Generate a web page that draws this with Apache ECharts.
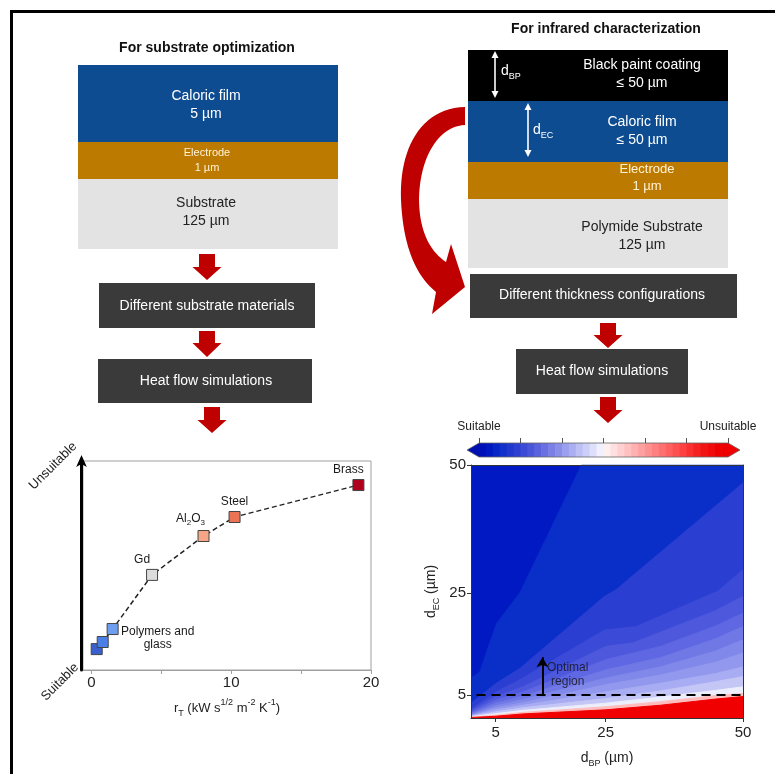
<!DOCTYPE html>
<html>
<head>
<meta charset="utf-8">
<script src="https://cdn.jsdelivr.net/npm/echarts@6/dist/echarts.min.js"></script>
<style>
  html, body { margin: 0; padding: 0; background: #fff; }
  #chart { width: 775px; height: 774px; }
</style>
</head>
<body>
<div id="chart"></div>
<script>
// ---- Substrate comparison: r_T against relative suitability ----
const materialNames = ['Polymer', 'Polymer', 'Polymers and\nglass', 'Gd', 'Al2O3', 'Steel', 'Brass'];
const rT = [0.38, 0.81, 1.52, 4.34, 8.02, 10.24, 19.1];
const suitabilityScore = [0.100, 0.134, 0.196, 0.455, 0.641, 0.732, 0.885];
const rTTickValues = [0, 5, 10, 15, 20];
const rTLabelValues = [0, 10, 20];

// ---- Thickness map: band boundaries [d_BP, d_EC] in µm, from suitable towards unsuitable ----
const contourEdges = [
  [[0.5, 8.3], [2.1, 9.5], [3.5, 14], [5.2, 19.1], [9.4, 25], [20.6, 50], [50, 50]],
  [[0.5, 3.4], [5.1, 7.3], [9.4, 10.2], [24.8, 24.3], [26.9, 25.6], [50, 46.5]],
  [[0.5, 2.2], [5.1, 5.6], [9.4, 8.0], [24.8, 17.7], [30.6, 18.4], [45.4, 25.3], [50, 29.5]],
  [[0.5, 1.9], [5, 4.7], [10, 6.6], [25, 14.5], [30, 15.2], [45, 21.5], [50, 24.3]],
  [[0.5, 1.6], [5, 4.0], [10, 5.6], [25, 11.9], [35, 14.5], [45, 18.5], [50, 21.0]],
  [[0.5, 1.4], [5, 3.4], [10, 4.8], [25, 9.9], [35, 12.3], [45, 16.0], [50, 18.4]],
  [[0.5, 1.2], [5, 2.9], [10, 4.1], [25, 8.3], [35, 10.5], [45, 13.6], [50, 15.8]],
  [[0.5, 1.05], [5, 2.5], [10, 3.5], [25, 7.0], [35, 8.9], [45, 11.4], [50, 13.2]],
  [[0.5, 0.95], [5, 2.1], [10, 3.0], [25, 5.6], [35, 7.3], [45, 9.2], [50, 10.5]],
  [[0.5, 0.85], [5, 1.7], [10, 2.5], [25, 4.3], [35, 5.8], [45, 7.6], [50, 8.6]],
  [[0.5, 0.75], [5, 1.35], [10, 2.0], [25, 3.4], [35, 4.6], [45, 5.9], [50, 6.6]],
  [[0.5, 0.65], [5, 1.05], [10, 1.6], [25, 2.7], [35, 3.7], [45, 4.9], [50, 5.3]],
  [[0.5, 0.6], [5, 0.85], [10, 1.3], [25, 2.1], [35, 3.0], [45, 4.2], [50, 4.7]]
];
const thicknessTicks = [5, 25, 50];
const thresholdEC = 5;          // minimum caloric film thickness, µm
const optimalArrow = [[13.5, 5], [13.5, 12.4]];
const optimalLabelAt = [18.1, 8.9];
const colorbarEnds = ['Suitable', 'Unsuitable'];

// ---- styles ----
const FONT = 'Liberation Sans, Arial, sans-serif';
const RED = '#bf0000';
const markerColors = ['#3a60d0', '#4a80e6', '#6d9ef0', '#dcdcdc', '#f6a686', '#ea7454', '#b1001e'];
const bandColors = ['#0019c2', '#0a2ec8', '#2a3ed2', '#3c4ad8', '#4e58dc', '#5f68e2', '#7078e6',
                    '#8088ea', '#9298ee', '#a8acf2', '#c4c6f6', '#eceefc', '#ffbcbc', '#f00000'];
const colorbarColors = [
  '#0010b8', '#0018c0', '#0626c6', '#1230ca', '#2038ce', '#2e40d2', '#3c4ad6', '#4a56da', '#5a62de',
  '#6a70e2', '#7a80e6', '#8a8eea', '#9aa0ee', '#abaff2', '#bcc0f5', '#ccd0f8', '#dee0fb', '#f0f0fe',
  '#fff0f0', '#ffe0e0', '#ffd0d0', '#ffc0c0', '#ffb0b0', '#ffa0a0', '#ff9090', '#ff8080', '#ff7070',
  '#ff6060', '#ff5050', '#ff4040', '#fa3030', '#f52020', '#f21414', '#f00a0a', '#ee0000', '#ec0000'
];
const labelStyles = [
  { show: false },
  { show: false },
  { position: [51, 15], align: 'center', verticalAlign: 'middle', lineHeight: 13 },
  { position: 'top', offset: [-10, 0] },
  { position: 'top', offset: [-13, 0], formatter: '{a|Al}{s|2}{a|O}{s|3}' },
  { position: 'top', offset: [0, 0] },
  { position: 'top', offset: [-10, 0] }
];

const subRich = {
  d: { fontSize: 14, fontFamily: FONT, color: '#222', lineHeight: 20 },
  s: { fontSize: 9, fontFamily: FONT, color: '#222', lineHeight: 10, verticalAlign: 'bottom' },
  p: { fontSize: 9, fontFamily: FONT, color: '#222', lineHeight: 10, verticalAlign: 'top' }
};

// ---- flow-chart drawing helpers ----
function downArrow(cx, y0, yh, y1) {
  return {
    type: 'polygon',
    shape: { points: [[cx - 8, y0], [cx + 8, y0], [cx + 8, yh], [cx + 14.5, yh], [cx, y1], [cx - 14.5, yh], [cx - 8, yh]] },
    style: { fill: RED }
  };
}
function rect(x, y, w, h, fill) {
  return { type: 'rect', shape: { x, y, width: w, height: h }, style: { fill } };
}
function text(x, y, str, size, color, weight) {
  return {
    type: 'text', x, y,
    style: { text: str, x: 0, y: 0, fill: color, font: (weight || 'normal') + ' ' + size + 'px ' + FONT,
             textAlign: 'center', textVerticalAlign: 'middle', lineHeight: size + 4 }
  };
}
function box(x, y, w, h, str, tx, ty) {
  return [rect(x, y, w, h, '#3a3a3a'), text(tx, ty, str, 14, '#fff')];
}
function doubleArrow(x, y0, y1) {
  return [
    { type: 'line', shape: { x1: x, y1: y0 + 5, x2: x, y2: y1 - 5 }, style: { stroke: '#fff', lineWidth: 1.6 } },
    { type: 'polygon', shape: { points: [[x, y0], [x - 3.5, y0 + 7], [x + 3.5, y0 + 7]] }, style: { fill: '#fff' } },
    { type: 'polygon', shape: { points: [[x, y1], [x - 3.5, y1 - 7], [x + 3.5, y1 - 7]] }, style: { fill: '#fff' } }
  ];
}
function subLabel(x, y, main, sub) {
  return {
    type: 'text', x, y,
    style: {
      text: '{m|' + main + '}{s|' + sub + '}', x: 0, y: 0, textAlign: 'left', textVerticalAlign: 'middle',
      rich: {
        m: { fontSize: 14, fontFamily: FONT, fill: '#fff', color: '#fff', lineHeight: 20 },
        s: { fontSize: 9, fontFamily: FONT, fill: '#fff', color: '#fff', lineHeight: 10, verticalAlign: 'bottom' }
      }
    }
  };
}
function rotatedText(x, y, str) {
  return {
    type: 'text', x, y, rotation: Math.PI / 4,
    style: { text: str, x: 0, y: 0, fill: '#222', font: '13px ' + FONT, textAlign: 'center', textVerticalAlign: 'middle' }
  };
}
// sample a cubic Bézier segment (outline of the curved flow arrow)
function bezier(p0, p1, p2, p3, n) {
  const pts = [];
  for (let k = 1; k <= n; k++) {
    const t = k / n, u = 1 - t;
    pts.push([
      u * u * u * p0[0] + 3 * u * u * t * p1[0] + 3 * u * t * t * p2[0] + t * t * t * p3[0],
      u * u * u * p0[1] + 3 * u * u * t * p1[1] + 3 * u * t * t * p2[1] + t * t * t * p3[1]
    ]);
  }
  return pts;
}
const curvedArrowOutline = [
  [465, 107],
  ...bezier([465, 107], [420, 108], [399, 150], [401, 200], 24),
  ...bezier([401, 200], [403, 245], [415, 275], [436, 292], 20),
  [432, 314], [465, 287], [451, 244], [446, 262],
  ...bezier([446, 262], [428, 250], [419, 228], [419, 198], 20),
  ...bezier([419, 198], [420, 158], [438, 126], [465, 125], 24)
];

const graphics = [
  // frame
  { type: 'polyline', shape: { points: [[11.5, 774], [11.5, 11.5], [775, 11.5]] }, style: { stroke: '#000', lineWidth: 3, fill: null } },

  // left: layer stack
  text(207, 48, 'For substrate optimization', 14, '#111', 'bold'),
  rect(78, 65, 260, 77, '#0e4c92'),
  rect(78, 142, 260, 37, '#bc7a00'),
  rect(78, 179, 260, 70, '#e3e3e3'),
  text(206, 105, 'Caloric film\n5 µm', 14, '#fff'),
  text(207, 160, 'Electrode\n1 µm', 11, '#fff3d6'),
  text(206, 212, 'Substrate\n125 µm', 14, '#222'),
  downArrow(207, 254, 267, 280),
  ...box(99, 283, 216, 45, 'Different substrate materials', 207, 306),
  downArrow(207, 331, 343, 357),
  ...box(98, 359, 214, 44, 'Heat flow simulations', 206, 381),
  downArrow(212, 407, 420, 433),
  rotatedText(53, 466, 'Unsuitable'),
  rotatedText(60, 682, 'Suitable'),

  // right: layer stack
  text(606, 29, 'For infrared characterization', 14, '#111', 'bold'),
  rect(468, 50, 260, 51, '#000'),
  rect(468, 101, 260, 61, '#0e4c92'),
  rect(468, 162, 260, 37, '#bc7a00'),
  rect(468, 199, 260, 69, '#e3e3e3'),
  text(642, 74, 'Black paint coating\n≤ 50 µm', 14, '#fff'),
  text(642, 131, 'Caloric film\n≤ 50 µm', 14, '#fff'),
  text(647, 178, 'Electrode\n1 µm', 13, '#fff3d6'),
  text(642, 236, 'Polymide Substrate\n125 µm', 14, '#222'),
  ...doubleArrow(495, 51, 98),
  subLabel(501, 71, 'd', 'BP'),
  ...doubleArrow(528, 103, 157),
  subLabel(533, 130, 'd', 'EC'),

  // curved arrow from the stack to the thickness study
  { type: 'polygon', shape: { points: curvedArrowOutline }, style: { fill: RED } },
  ...box(470, 274, 267, 44, 'Different thickness configurations', 602, 295),
  downArrow(608, 323, 335, 348),
  ...box(516, 349, 172, 45, 'Heat flow simulations', 602, 371),
  downArrow(608, 397, 410, 423)
];

// ---- series ----
const series = [];
series.push({
  type: 'line', xAxisIndex: 0, yAxisIndex: 0, z: 2,
  data: rT.map((x, i) => [x, suitabilityScore[i]]),
  symbol: 'none', silent: true,
  lineStyle: { color: '#222', width: 1.5, type: [5, 3] }
});
series.push({
  type: 'scatter', xAxisIndex: 0, yAxisIndex: 0, z: 3,
  symbol: 'rect', symbolSize: 11,
  itemStyle: { opacity: 1 },
  data: rT.map((x, i) => ({
    value: [x, suitabilityScore[i]],
    name: materialNames[i],
    itemStyle: { color: markerColors[i], borderColor: '#444', borderWidth: 1, opacity: 1 },
    label: Object.assign({ show: true, distance: 3 }, labelStyles[i])
  })),
  label: {
    show: true, formatter: '{b}', fontSize: 12, fontFamily: FONT, color: '#1a1a1a',
    rich: {
      a: { fontSize: 12, fontFamily: FONT, color: '#1a1a1a', lineHeight: 16 },
      s: { fontSize: 8, fontFamily: FONT, color: '#1a1a1a', lineHeight: 9, verticalAlign: 'bottom' }
    }
  }
});

contourEdges.forEach((edge, i) => {
  series.push({
    type: 'line', xAxisIndex: 1, yAxisIndex: 1, z: 1, silent: true,
    data: edge, symbol: 'none', smooth: false,
    lineStyle: { color: bandColors[i + 1], width: 1 },
    areaStyle: { color: bandColors[i + 1], opacity: 1, origin: 'start' }
  });
});

series.push({
  type: 'line', xAxisIndex: 1, yAxisIndex: 1, z: 4, silent: true,
  data: [[1.5, thresholdEC], [50, thresholdEC]], symbol: 'none',
  lineStyle: { color: '#000', width: 2, type: [9, 6] },
  markLine: {
    silent: true, symbol: ['none', 'arrow'], symbolSize: [9, 10],
    label: { show: false },
    lineStyle: { color: '#000', width: 2, type: 'solid' },
    data: [[{ coord: optimalArrow[0] }, { coord: optimalArrow[1] }]]
  }
});
series.push({
  type: 'scatter', xAxisIndex: 1, yAxisIndex: 1, z: 4, silent: true,
  symbolSize: 0, data: [optimalLabelAt],
  label: { show: true, position: 'inside', formatter: 'Optimal\nregion', fontSize: 12, lineHeight: 14,
           fontFamily: FONT, color: '#111', align: 'center', verticalAlign: 'middle' }
});

// colorbar
series.push({
  type: 'custom', xAxisIndex: 3, yAxisIndex: 3, silent: true, z: 2,
  data: colorbarColors.map((c, i) => [i]),
  renderItem(params, api) {
    const i = api.value(0);
    const p0 = api.coord([i, 1]);
    const p1 = api.coord([i + 1, 0]);
    return { type: 'rect', shape: { x: p0[0], y: p0[1], width: p1[0] - p0[0] + 0.6, height: p1[1] - p0[1] },
             style: { fill: colorbarColors[i] } };
  }
});
series.push({
  type: 'custom', xAxisIndex: 3, yAxisIndex: 3, silent: true, z: 3, clip: false,
  data: [[0]],
  renderItem(params, api) {
    const a = api.coord([0, 1]), b = api.coord([0, 0]);
    const c = api.coord([colorbarColors.length, 1]), d = api.coord([colorbarColors.length, 0]);
    const my = (a[1] + b[1]) / 2;
    return {
      type: 'group',
      children: [
        { type: 'polygon', shape: { points: [a, [a[0] - 12, my], b] }, style: { fill: '#0010b0' } },
        { type: 'polygon', shape: { points: [c, [c[0] + 12, my], d] }, style: { fill: '#f00000' } },
        { type: 'polygon', shape: { points: [a, [a[0] - 12, my], b, d, [c[0] + 12, my], c] },
          style: { fill: null, stroke: '#666', lineWidth: 0.8 } }
      ]
    };
  }
});

const option = {
  animation: false,
  backgroundColor: '#fff',
  textStyle: { fontFamily: FONT },
  grid: [
    { left: 83, top: 461, width: 288, height: 209, show: true, borderColor: '#a0a0a0', borderWidth: 1 },
    { left: 471, top: 465, width: 272, height: 253, show: true, backgroundColor: bandColors[0], borderWidth: 0 },
    { left: 479, top: 443, width: 249, height: 14 }
  ],
  xAxis: [
    {
      gridIndex: 0, type: 'value', min: -0.6, max: 20, z: 3,
      name: '{d|r}{s|T}{d| (kW s}{p|1/2}{d| m}{p|-2}{d| K}{p|-1}{d|)}',
      nameLocation: 'middle', nameGap: 28,
      nameTextStyle: { rich: { d: Object.assign({}, subRich.d, { fontSize: 13 }), s: subRich.s, p: subRich.p } },
      axisLine: { onZero: false, lineStyle: { color: '#a0a0a0', width: 1 } },
      axisTick: { show: true, length: 4, customValues: rTTickValues, lineStyle: { color: '#a0a0a0' } },
      axisLabel: { customValues: rTLabelValues, fontSize: 15, color: '#222', margin: 5, fontFamily: FONT },
      splitLine: { show: false }
    },
    {
      gridIndex: 1, type: 'value', min: 0.5, max: 50, z: 3,
      name: '{d|d}{s|BP}{d| (µm)}', nameLocation: 'middle', nameGap: 30,
      nameTextStyle: { rich: subRich },
      axisLine: { onZero: false, lineStyle: { color: '#333', width: 1 } },
      axisTick: { show: true, length: 4, customValues: thicknessTicks, lineStyle: { color: '#333' } },
      axisLabel: { customValues: thicknessTicks, fontSize: 15, color: '#222', margin: 7, fontFamily: FONT },
      splitLine: { show: false }
    },
    {
      gridIndex: 1, type: 'value', min: 0.5, max: 50, position: 'top', z: 3,
      axisLine: { onZero: false, lineStyle: { color: '#333', width: 1 } },
      axisTick: { show: false }, axisLabel: { show: false }, splitLine: { show: false }
    },
    {
      gridIndex: 2, type: 'value', min: 0, max: colorbarColors.length, interval: 6, position: 'top', z: 3,
      axisLine: { show: false, onZero: false },
      axisTick: { show: true, inside: false, length: 5, lineStyle: { color: '#555' } },
      axisLabel: {
        customValues: [0, colorbarColors.length], fontSize: 12, color: '#222', margin: 10, fontFamily: FONT,
        formatter: v => (v === 0 ? colorbarEnds[0] : colorbarEnds[1])
      },
      splitLine: { show: false }
    }
  ],
  yAxis: [
    {
      gridIndex: 0, type: 'value', min: 0, max: 1, offset: 1.5, z: 4,
      axisLine: { show: true, onZero: false, symbol: ['none', 'arrow'], symbolSize: [8, 12], symbolOffset: [0, 6],
                  lineStyle: { color: '#000', width: 3 } },
      axisTick: { show: false }, axisLabel: { show: false }, splitLine: { show: false }
    },
    {
      gridIndex: 1, type: 'value', min: 0.5, max: 50, z: 3,
      name: '{d|d}{s|EC}{d| (µm)}', nameLocation: 'middle', nameGap: 30, nameRotate: 90,
      nameTextStyle: { rich: subRich },
      axisLine: { show: true, onZero: false, lineStyle: { color: '#333', width: 1 } },
      axisTick: { show: true, length: 4, customValues: thicknessTicks, lineStyle: { color: '#333' } },
      axisLabel: { customValues: thicknessTicks, fontSize: 15, color: '#222', margin: 5, fontFamily: FONT },
      splitLine: { show: false }
    },
    {
      gridIndex: 1, type: 'value', min: 0.5, max: 50, position: 'right', z: 3,
      axisLine: { show: true, onZero: false, lineStyle: { color: '#333', width: 1 } },
      axisTick: { show: false }, axisLabel: { show: false }, splitLine: { show: false }
    },
    { gridIndex: 2, type: 'value', min: 0, max: 1, show: false }
  ],
  graphic: graphics,
  series
};

const chart = echarts.init(document.getElementById('chart'), null, { renderer: 'canvas' });
chart.setOption(option);
</script>
</body>
</html>
